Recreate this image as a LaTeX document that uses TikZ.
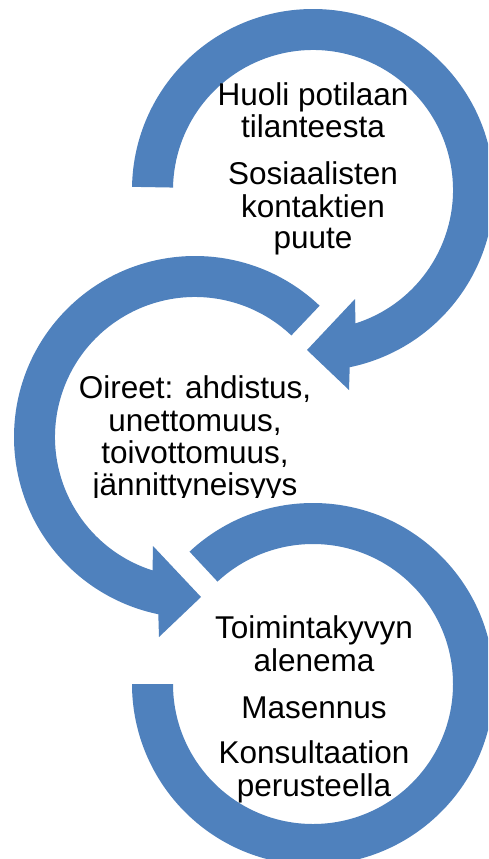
\documentclass[tikz,border=0pt]{standalone}
\usepackage{fontspec}
\setmainfont{Liberation Sans}
\definecolor{ringblue}{RGB}{79,129,189}
\begin{document}
\begin{tikzpicture}[x=1pt,y=1pt,
  ringfill/.style={fill=ringblue, draw=none},
  txt/.style={anchor=base, inner sep=0pt, font=\fontsize{31.5}{33}\selectfont, text=black}]
\useasboundingbox (0,0) rectangle (488,-859);
\clip (0,0) rectangle (488,-859);
\fill[white] (0,0) rectangle (488,-859);
% top ring (clockwise, arrowhead at bottom)
\fill[ringfill, shift={(313,-190)}]
  (179:181) arc[start angle=179, end angle=-78.3, radius=181]
  -- (36,-200) -- (-6,-160) -- (42,-109)
  -- (-72.35:140) arc[start angle=-72.35, end angle=179, radius=140] -- cycle;
% middle ring (counter-clockwise, arrowhead at bottom)
\fill[ringfill, shift={(195,-437)}]
  (46.5:181) arc[start angle=46.5, end angle=258.3, radius=181]
  -- (-36,-200) -- (6,-160) -- (-42,-109)
  -- (252.35:140) arc[start angle=252.35, end angle=46.5, radius=140] -- cycle;
% bottom ring (clockwise, no arrowhead)
\fill[ringfill, shift={(313,-684)}]
  (133:181) arc[start angle=133, end angle=-180, radius=181]
  -- (-180:140) arc[start angle=-180, end angle=133, radius=140] -- cycle;
% texts
\node[txt] (a1) at (313,-105) {Huoli potilaan};
\node[txt] (a2) at (313,-137) {tilanteesta};
\node[txt] (a3) at (313,-184) {Sosiaalisten};
\node[txt] (a4) at (313,-217) {kontaktien};
\node[txt] (a5) at (313,-248) {puute};
\begin{scope}
\clip (0,0) rectangle (488,-497.5);
\node[txt] (b1) at (195,-398) {Oireet: ahdistus,};
\node[txt] (b2) at (195,-431) {unettomuus,};
\node[txt] (b3) at (195,-463) {toivottomuus,};
\node[txt] (b4) at (195,-495) {jännittyneisyys};
\end{scope}
\node[txt] (c1) at (314,-638) {Toimintakyvyn};
\node[txt] (c2) at (314,-671) {alenema};
\node[txt] (c3) at (314,-718) {Masennus};
\node[txt] (c4) at (314,-763) {Konsultaation};
\node[txt] (c5) at (314,-796) {perusteella};
\end{tikzpicture}
\end{document}
